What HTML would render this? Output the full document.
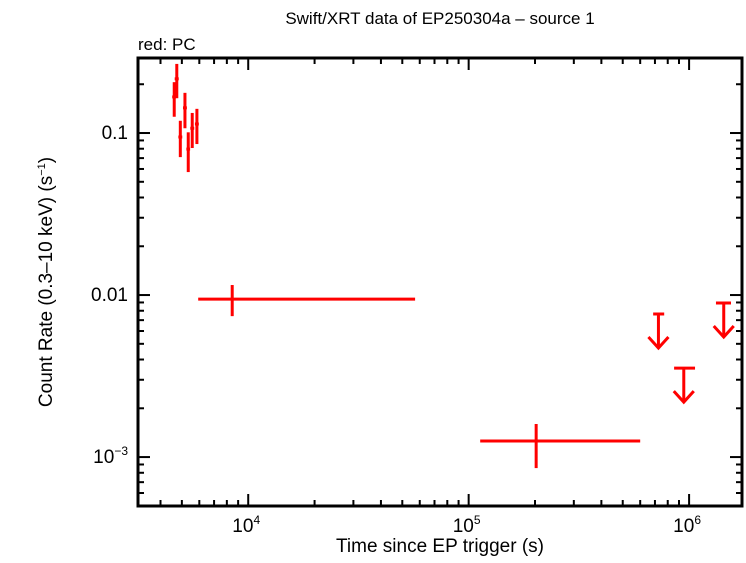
<!DOCTYPE html>
<html><head><meta charset="utf-8"><style>
body{margin:0;background:#fff}
svg text{font-family:"Liberation Sans",sans-serif;fill:#000}
</style></head><body>
<svg id="chart" width="746" height="558" xmlns="http://www.w3.org/2000/svg">
<text x="440" y="24" font-size="17" text-anchor="middle">Swift/XRT data of EP250304a – source 1</text>
<text x="138" y="50" font-size="17">red: PC</text>
<text x="440" y="552" font-size="19" text-anchor="middle">Time since EP trigger (s)</text>
<text transform="translate(52,282) rotate(-90)" font-size="19" text-anchor="middle">Count Rate (0.3–10 keV) (s<tspan font-size="11" dy="-7">−1</tspan><tspan dy="7">)</tspan></text>
<g id="axes"></g><g id="marks"></g>
</svg>
<script>
// data points: time, tstart, tstop, rate, rate low, rate high
const times = [4617, 4742, 5164, 4920, 5345, 5572, 5851, 8460, 202400];
const tStart = [4520, 4640, 5060, 4820, 5240, 5460, 5730, 5930, 112800];
const tStop = [4710, 4840, 5270, 5020, 5450, 5690, 5970, 57150, 600000];
const rates = [0.167, 0.216, 0.143, 0.0945, 0.0796, 0.107, 0.1137, 0.00944, 0.001256];
const rateLo = [0.126, 0.164, 0.107, 0.071, 0.0574, 0.0808, 0.0855, 0.00741, 0.000855];
const rateHi = [0.206, 0.267, 0.177, 0.119, 0.101, 0.133, 0.141, 0.01153, 0.0016];
// upper limits
const ulTimes = [726000, 946000, 1436000];
const ulStart = [687000, 855000, 1324000];
const ulStop = [771000, 1064000, 1549000];
const ulRates = [0.00764, 0.00354, 0.00893];
const xTickLabels = ["4", "5", "6"];
const yTickVals = [0.1, 0.01, 0.001];

const L=138,R=742,T=58,B=506;
const xmin=3.50,xmax=6.24, ymin=-3.302, ymax=-0.537;
const X=v=>L+(Math.log10(v)-xmin)/(xmax-xmin)*(R-L);
const Y=v=>B-(Math.log10(v)-ymin)/(ymax-ymin)*(B-T);
const NS="http://www.w3.org/2000/svg";
function mk(parent,tag,attrs){const e=document.createElementNS(NS,tag);for(const k in attrs)e.setAttribute(k,attrs[k]);parent.appendChild(e);return e;}
const ax=document.getElementById('axes'), mg=document.getElementById('marks');
const frame=mk(ax,'rect',{x:L,y:T,width:R-L,height:B-T,fill:'none',stroke:'#000','stroke-width':3});


// x ticks
for(let d=3;d<=6;d++){for(let m=1;m<10;m++){const v=m*Math.pow(10,d);const lv=Math.log10(v);if(lv<xmin||lv>xmax)continue;const x=X(v);const len=m===1?12:6;
mk(ax,'line',{x1:x,x2:x,y1:B,y2:B-len,stroke:'#000','stroke-width':2});
mk(ax,'line',{x1:x,x2:x,y1:T,y2:T+len,stroke:'#000','stroke-width':2});}}
xTickLabels.forEach(p=>{const x=X(Math.pow(10,+p));const t=mk(ax,'text',{x:x-2,y:532,'font-size':19,'text-anchor':'middle'});


t.innerHTML='10<tspan font-size="12" dy="-8">'+p+'</tspan>';});
// y ticks
for(let d=-4;d<=0;d++){for(let m=1;m<10;m++){const v=m*Math.pow(10,d);const lv=Math.log10(v);if(lv<ymin||lv>ymax)continue;const y=Y(v);const len=m===1?12:6;
mk(ax,'line',{x1:L,x2:L+len,y1:y,y2:y,stroke:'#000','stroke-width':2});
mk(ax,'line',{x1:R,x2:R-len,y1:y,y2:y,stroke:'#000','stroke-width':2});}}
yTickVals.forEach(v=>{const y=Y(v);const t=mk(ax,'text',{x:L-10,y:y+6,'font-size':19,'text-anchor':'end'});


t.innerHTML=v===0.001?'10<tspan font-size="12" dy="-8">−3</tspan>':String(v);});
// data
times.forEach((t,i)=>{const g=mk(mg,'g',{stroke:'#f00','stroke-width':3});


mk(g,'line',{x1:X(tStart[i]),x2:X(tStop[i]),y1:Y(rates[i]),y2:Y(rates[i])});
mk(g,'line',{x1:X(t),x2:X(t),y1:Y(rateLo[i]),y2:Y(rateHi[i])});});
ulTimes.forEach((t,i)=>{const g=mk(mg,'g',{stroke:'#f00','stroke-width':3,fill:'none'});


const x=X(t),y=Y(ulRates[i]);
mk(g,'line',{x1:X(ulStart[i]),x2:X(ulStop[i]),y1:y,y2:y});
mk(g,'line',{x1:x,x2:x,y1:y,y2:y+34});
mk(g,'polyline',{points:(x-10)+','+(y+23)+' '+x+','+(y+34)+' '+(x+10)+','+(y+23)});});
</script>
</body></html>
